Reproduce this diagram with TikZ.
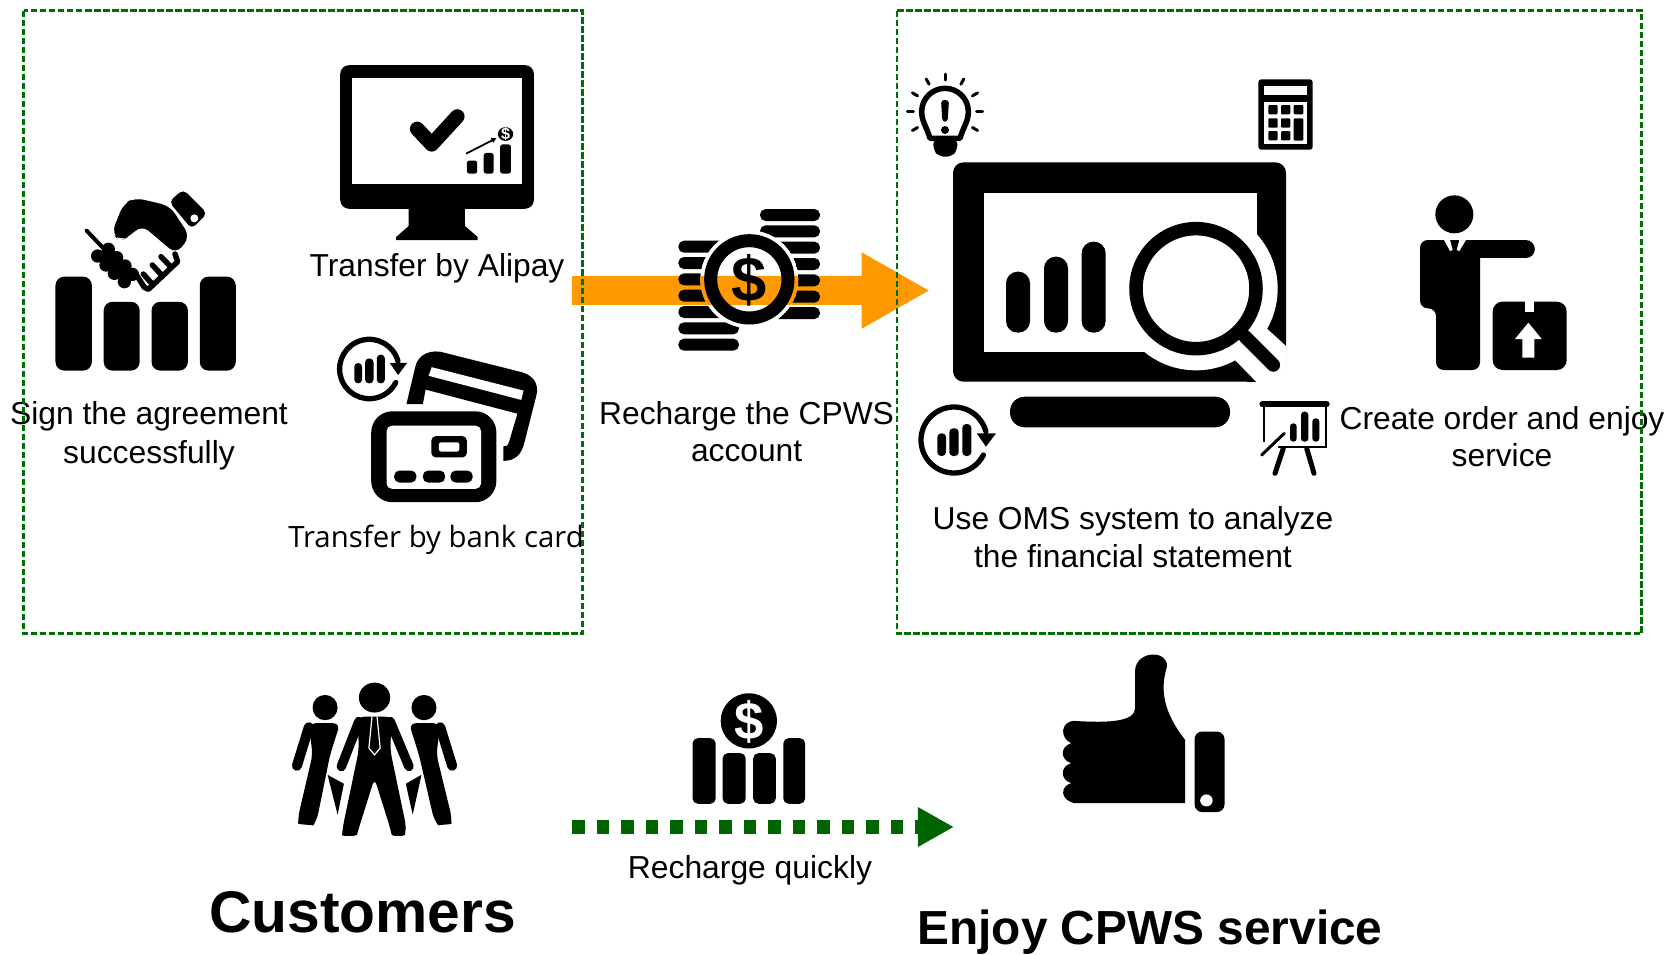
\documentclass[tikz,border=0pt]{standalone}
\usepackage{fontspec}
\setmainfont{Liberation Sans}
\newfontfamily\cardfont{Open Sans}
\usetikzlibrary{arrows.meta}
\definecolor{framegreen}{RGB}{0,110,0}
\definecolor{darkarrow}{RGB}{0,100,0}
\definecolor{rechargeorange}{RGB}{255,153,0}
\tikzset{
	caption/.style={inner sep=0, align=center, font=\fontsize{9.03}{10.6}\selectfont},
	headline/.style={inner sep=0, font=\bfseries\fontsize{16.7}{20}\selectfont},
	greenframe/.style={framegreen, line width=0.028cm, dash pattern=on 0.065cm off 0.025cm},
	coinlabel/.style={inner sep=0, font=\bfseries\fontsize{#1}{#1}\selectfont},
	chartcycle/.pic={
		\draw[line width=0.053cm, line cap=round] (0,0) ++(-15:33) arc[start angle=-15, end angle=-333, radius=33];
		\fill (22.7,-6.7) -- (42,-6.7) -- (32,6.7) -- cycle;
		\fill[rounded corners=1.1pt] (-16.7,-6.7) rectangle (-8,16);
		\fill[rounded corners=1.1pt] (-4.7,-11.7) rectangle (4.7,16);
		\fill[rounded corners=1.1pt] (8.3,-16) rectangle (17.3,16);
	}
}
\begin{document}
\begin{tikzpicture}[x=0.01cm, y=-0.01cm]
	\useasboundingbox (0,0) rectangle (1670,954);
	\fill[white] (0,0) rectangle (1670,954);

	\coordinate (rechargeStart) at (572,290.5);
	\coordinate (rechargeEnd) at (930,290.5);
	\draw[rechargeorange, line width=0.29cm, -{Triangle[length=0.683cm, width=0.71cm]}] (rechargeStart) -- (rechargeEnd);

	% handshake
	\begin{scope}[shift={(75,180)}, scale=1/3]
		\fill[rounded corners=1.5pt] (282,65) -- (325,28) -- (397,100) -- (350,147) -- cycle;
		\fill[white] (358,115) circle (12);
		\fill[rounded corners=2.5pt] (285,78) -- (180,53) -- (145,72) -- (110,160) -- (135,183) -- (165,168) -- (200,135) -- (303,222) -- (345,170) -- cycle;
		\draw[line width=0.04cm, line cap=round] (35,152) -- (90,210);
		\foreach \bx/\by in {100/208, 125/233, 150/258, 172/283, 68/228, 93/255, 118/280, 148/305} {
			\fill (\bx,\by) circle (20);
		}
		\fill (70,225) -- (100,205) -- (175,280) -- (148,308) -- cycle;
		\draw[line width=0.055cm, line cap=round, line join=round] (178,275) -- (208,322) -- (220,328) -- (308,245) -- (300,222);
		\draw[line width=0.055cm, line cap=round] (205,282) -- (228,308);
		\draw[line width=0.055cm, line cap=round] (232,255) -- (258,283);
		\draw[line width=0.055cm, line cap=round] (258,230) -- (285,258);
	\end{scope}

	% sign, alipay and bank card
	\begin{scope}[shift={(0,40)}, xscale=0.3827, yscale=0.3444]
		\fill[rounded corners=2.5pt] (145,687) rectangle (240,960);
		\fill[rounded corners=2.5pt] (271,760) rectangle (365,960);
		\fill[rounded corners=2.5pt] (396,760) rectangle (491,960);
		\fill[rounded corners=2.5pt] (522,687) rectangle (616,960);

		\fill[rounded corners=2.5pt] (889,73) rectangle (1395,490);
		\fill[white] (921,109) rectangle (1363,419);
		\fill (1068,480) -- (1215,480) -- (1215,540) -- (1248,572) -- (1248,581) -- (1035,581) -- (1035,572) -- (1068,540) -- cycle;
		\draw[line width=0.145cm, line cap=round, line join=round] (1090,258) -- (1128,303) -- (1195,222);
		\fill[rounded corners=0.7pt] (1220,350) rectangle (1247,388);
		\fill[rounded corners=0.7pt] (1264,328) rectangle (1290,388);
		\fill[rounded corners=0.7pt] (1307,303) rectangle (1335,388);
		\draw[line width=0.018cm, -{Triangle[length=0.05cm, width=0.05cm]}] (1218,330) -- (1297,285);
		\fill (1321,273) circle (20);
		\node[coinlabel=4.6, white] (alipayDollar) at (1321,273) {\$};

		\fill (1062,1057) -- (1085,950) .. controls (1090,920) and (1115,900) .. (1150,905) -- (1365,965) .. controls (1395,975) and (1408,1000) .. (1402,1030) -- (1370,1170) .. controls (1362,1205) and (1345,1222) .. (1315,1222) -- (1315,1180) .. controls (1330,1180) and (1328,1170) .. (1332,1160) -- (1352,1085) -- (1112,1015) -- (1105,1057) -- cycle;
		\fill[white] (1128,950) -- (1368,1018) -- (1362,1045) -- (1120,975) -- cycle;
		\fill[rounded corners=6pt] (970,1078) rectangle (1297,1342);
		\fill[white, rounded corners=1.5pt] (1010,1120) rectangle (1257,1303);
		\fill[rounded corners=1.3pt] (1127,1150) rectangle (1220,1212);
		\fill[white, rounded corners=0.6pt] (1147,1168) rectangle (1200,1195);
		\foreach \dx in {1030, 1105, 1177} {
			\fill[rounded corners=1.5pt] (\dx,1250) rectangle ++(58,35);
		}
	\end{scope}
	\pic[scale=0.9] at (369.3,369) {chartcycle};

	% coins on the orange arrow
	\begin{scope}[shift={(570,190)}, scale=1/3]
		\foreach \by in {152, 201, 250, 299, 348, 397, 446} {
			\fill[rounded corners=1.6pt] (325,\by) rectangle (507,\by+36);
		}
		\foreach \by in {57, 106, 155, 204, 253, 302, 351} {
			\fill[rounded corners=1.6pt] (570,\by) rectangle (750,\by+36);
		}
		\begin{scope}
			\clip (538,268) circle (147);
			\fill[white] (538,268) circle (147);
			\fill[rechargeorange] (300,259) rectangle (800,345);
		\end{scope}
		\draw[line width=0.13cm] (538,268) circle (116);
		\node[coinlabel=18] (rechargeDollar) at (538,270) {\$};
	\end{scope}

	% analysis monitor and the small icons round it
	\begin{scope}[shift={(880,50)}, scale=1/3]
		\fill[rounded corners=3pt] (219,337) rectangle (1218,995);
		\fill (1100,900) rectangle (1218,995);
		\fill[white] (312,428) rectangle (1130,905);
		\fill[white] (948,716) circle (245);
		\fill[white] (1065,930) -- (1130,997) -- (1220,997) -- (1220,890) -- (1160,835) -- cycle;
		\draw[line width=0.135cm] (948,716) circle (180);
		\draw[line width=0.135cm, line cap=round] (1095,860) -- (1180,945);
		\fill[rounded corners=3.3pt] (378,665) rectangle (450,848);
		\fill[rounded corners=3.3pt] (492,620) rectangle (564,848);
		\fill[rounded corners=3.3pt] (605,575) rectangle (677,848);
		\fill[rounded corners=4.2pt] (390,1040) rectangle (1050,1132);

		\foreach \ang in {0, -30, -60, -90, -120, -150, 180, 30, 150} {
			\draw[line width=0.03cm, line cap=round] (195,185) ++(\ang:95) -- ++(\ang:18);
		}
		\draw[line width=0.055cm, line join=round] (150,265) .. controls (140,230) and (125,215) .. (125,185) arc[start angle=180, end angle=360, radius=70] .. controls (265,215) and (250,230) .. (240,265) -- cycle;
		\fill[rounded corners=1.5pt] (160,265) -- (232,265) -- (232,300) -- (215,320) -- (177,320) -- (160,300) -- cycle;
		\fill[rounded corners=0.9pt] (183,150) -- (207,150) -- (203,215) -- (187,215) -- cycle;
		\fill (195,240) circle (12);

		\fill[rounded corners=0.8pt] (1135,88) rectangle (1298,299);
		\fill[white] (1153,107) rectangle (1280,135);
		\fill[white] (1153,155) rectangle (1280,282);
		\foreach \kx in {1165, 1203} {
			\foreach \ky in {165, 205, 243} {
				\fill[rounded corners=0.3pt] (\kx,\ky) rectangle ++(28,28);
			}
		}
		\fill[rounded corners=0.3pt] (1241,165) rectangle ++(29,28);
		\fill[rounded corners=0.3pt] (1241,205) rectangle (1270,272);

		\draw[line width=0.02cm] (1153,1175) -- (1153,1063) (1337,1063) -- (1337,1192) -- (1195,1192);
		\draw[line width=0.06cm, line cap=round] (1147,1063) -- (1340,1063);
		\fill[rounded corners=0.9pt] (1230,1120) rectangle (1250,1175);
		\fill[rounded corners=0.9pt] (1263,1085) rectangle (1285,1175);
		\fill[rounded corners=0.9pt] (1297,1105) rectangle (1318,1175);
		\draw[line width=0.03cm, line cap=round] (1213,1150) -- (1145,1215);
		\draw[line width=0.05cm, line cap=round] (1210,1195) -- (1185,1270);
		\draw[line width=0.05cm, line cap=round] (1280,1195) -- (1302,1270);
	\end{scope}
	\pic at (954,440) {chartcycle};

	% person with parcel
	\begin{scope}[shift={(1340,170)}, scale=1/3]
		\fill (343,133) circle (57);
		\fill[rounded corners=2.2pt] (240,210) -- (420,210) -- (420,600) -- (288,600) -- (288,415) -- (240,415) -- cycle;
		\draw[line width=0.183cm, line cap=round] (400,238) -- (557,238);
		\fill[white] (312,210) -- (330,210) -- (338,240) -- (330,243) -- cycle;
		\fill[white] (378,210) -- (358,210) -- (350,240) -- (358,243) -- cycle;
		\fill[rounded corners=2.8pt] (458,395) rectangle (680,600);
		\fill[white] (555,393) rectangle (583,425);
		\fill[white] (565,458) -- (605,507) -- (583,507) -- (583,563) -- (547,563) -- (547,507) -- (525,507) -- cycle;
	\end{scope}

	% customers
	\begin{scope}[shift={(270,640)}, x=0.00625cm, y=-0.003333cm]
		\fill (167,173) ellipse (25 and 45);
		\fill (88,203) ellipse (20 and 38);
		\fill (246,203) ellipse (20 and 38);
		\fill[rounded corners=2pt] (62,250) -- (112,250) -- (96,345) -- (75,540) .. controls (70,555) and (45,555) .. (45,530) -- (68,345) -- cycle;
		\draw[line width=0.1cm, line cap=round] (62,262) -- (43,378);
		\fill (92,405) -- (118,432) -- (108,525) -- cycle;
		\fill[rounded corners=2pt] (272,250) -- (222,250) -- (238,345) -- (262,540) .. controls (268,555) and (290,555) .. (290,530) -- (266,345) -- cycle;
		\draw[line width=0.1cm, line cap=round] (272,262) -- (291,378);
		\fill (242,405) -- (217,432) -- (228,525) -- cycle;
		\draw[white, line width=0.145cm, line cap=round] (142,245) -- (114,385);
		\draw[white, line width=0.145cm, line cap=round] (192,245) -- (222,385);
		\fill[rounded corners=2pt] (140,230) -- (195,230) -- (192,330) -- (218,565) .. controls (215,590) and (195,590) .. (192,565) -- (167,415) -- (142,565) .. controls (138,590) and (115,590) .. (116,565) -- (142,330) -- cycle;
		\draw[line width=0.095cm, line cap=round] (142,245) -- (114,380);
		\draw[line width=0.095cm, line cap=round] (192,245) -- (222,380);
		\draw[white, line width=0.012cm] (163,230) -- (158,325) -- (167,345) -- (176,325) -- (171,230);

		% coins icon and thumb
		\fill[rounded corners=1.5pt] (675,295) rectangle (712,492);
		\fill[rounded corners=1.5pt] (723,340) rectangle (760,492);
		\fill[rounded corners=1.5pt] (772,340) rectangle (808,492);
		\fill[rounded corners=1.5pt] (820,295) rectangle (855,492);
		\fill[white] (765,243) ellipse (50 and 92);
		\fill (765,243) ellipse (45 and 83);
		\node[coinlabel=15, white] (quickDollar) at (765,245) {\$};

		\fill (1382,90) .. controls (1385,30) and (1435,30) .. (1433,80) .. controls (1425,130) and (1420,200) .. (1462,300) -- (1462,490) -- (1285,490) .. controls (1262,480) and (1262,440) .. (1280,430) .. controls (1262,420) and (1262,380) .. (1280,370) .. controls (1262,360) and (1262,320) .. (1280,310) .. controls (1262,295) and (1262,245) .. (1285,243) .. controls (1340,250) and (1382,245) .. (1382,205) -- cycle;
		\fill[rounded corners=2.2pt] (1477,275) rectangle (1525,517);
		\fill[white] (1496,482) ellipse (10 and 18);
	\end{scope}

	\coordinate (quickStart) at (572,827);
	\coordinate (quickEnd) at (954,827);
	\draw[darkarrow, line width=0.136cm, dash pattern=on 0.125cm off 0.12cm, -{Triangle[length=0.36cm, width=0.37cm]}] (quickStart) -- (quickEnd);

	\node[caption, font=\fontsize{9.05}{11.2}\selectfont] (signText) at (149,436) {Sign the agreement\\successfully};
	\node[caption] (alipayText) at (437,268) {Transfer by Alipay};
	\node[caption, font=\cardfont\fontsize{8.35}{10}\selectfont] (cardText) at (436,540) {Transfer by bank card};
	\node[caption] (rechargeText) at (746.6,431.5) {Recharge the CPWS\\account};
	\node[caption] (omsText) at (1133,537) {Use OMS system to analyze\\the financial statement};
	\node[caption] (orderText) at (1502,436.5) {Create order and enjoy\\service};
	\node[caption, font=\fontsize{9.05}{10}\selectfont] (quickText) at (750,870) {Recharge quickly};
	\node[headline] (customersText) at (362.5,912.7) {Customers};
	\node[headline, font=\bfseries\fontsize{13.6}{16}\selectfont] (enjoyText) at (1150,932) {Enjoy CPWS service};

	\draw[greenframe] (23.5,10.6) rectangle (582.5,633.7);
	\draw[greenframe] (897,10.6) rectangle (1641.5,633.7);
\end{tikzpicture}
\end{document}
